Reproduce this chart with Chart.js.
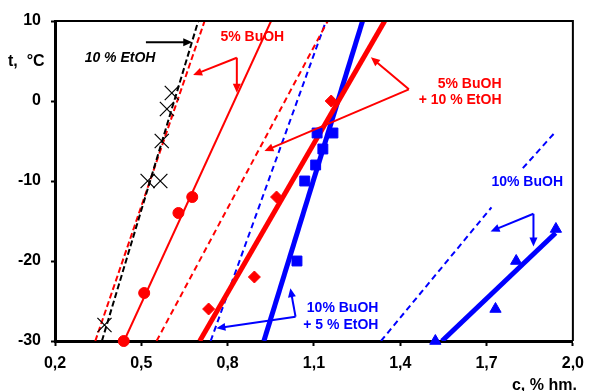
<!DOCTYPE html>
<html>
<head>
<meta charset="utf-8">
<script src="https://cdn.jsdelivr.net/npm/chart.js@4.4.1/dist/chart.umd.min.js"></script>
<style>
  html, body { margin: 0; padding: 0; background: #fff; }
</style>
</head>
<body>
<canvas id="chart" width="592" height="391"></canvas>
<script>
// ------------------- Data (c, % hm. vs t, °C) -------------------
// 10 % EtOH
const etohX = [0.372, 0.522, 0.566, 0.571, 0.589, 0.606];
const etohT = [-28, -10, -10, -5, -1, 1];
const etohLineX = [0.363, 0.698];
const etohLineT = [-30, 10];

// 5% BuOH
const bu5X = [0.439, 0.510, 0.629, 0.677];
const bu5T = [-30, -24, -14, -12];
const bu5LineX = [0.440, 0.951];
const bu5LineT = [-30, 10];
const bu5CalcX = [0.340, 0.720];
const bu5CalcT = [-30, 10];

// 5% BuOH + 10 % EtOH
const mixRedX = [0.734, 0.893, 0.970, 1.160];
const mixRedT = [-26, -22, -12, 0];
const mixRedLineX = [0.703, 1.346];
const mixRedLineT = [-30, 10];
const mixRedCalcX = [0.553, 1.148];
const mixRedCalcT = [-30, 10];

// 10% BuOH + 5 % EtOH
const mixBlueX = [1.041, 1.068, 1.106, 1.131, 1.111, 1.166];
const mixBlueT = [-20, -10, -8, -6, -4, -4];
const mixBlueLineX = [0.926, 1.269];
const mixBlueLineT = [-30, 10];
const mixBlueCalcX = [0.741, 1.142];
const mixBlueCalcT = [-30, 10];

// 10% BuOH
const bu10X = [1.522, 1.731, 1.803, 1.941];
const bu10T = [-30, -26, -20, -16];
const bu10LineX = [1.545, 1.940];
const bu10LineT = [-30, -16.5];
const bu10CalcX = [1.333, 1.717, null, 1.826, 1.936];
const bu10CalcT = [-30, -13.3, null, -8.4, -4];

const xTicks = [0.2, 0.5, 0.8, 1.1, 1.4, 1.7, 2.0];
const yTicks = [-30, -20, -10, 0, 10];

const RED = '#ff0000', BLUE = '#0000ff', BLACK = '#000000';
const FONT = '"Liberation Sans", Arial, sans-serif';

// ------------------- Helpers -------------------
function pts(xs, ys){
  return xs.map((x,i)=> (x===null || ys[i]===null) ? {x:NaN, y:null} : {x, y:ys[i]});
}

function markers(xs, ys, style, radius, color){
  return {
    data: pts(xs, ys), showLine:false, order:0, clip:false,
    pointStyle:style, pointRadius:radius,
    pointBackgroundColor: style==='crossRot' ? 'transparent' : color,
    pointBorderColor: color, pointBorderWidth: style==='crossRot' ? 1.2 : 1
  };
}

function line(xs, ys, color, width, dash){
  return {
    data: pts(xs, ys), showLine:true, order:1, spanGaps:false,
    borderColor:color, borderWidth:width, borderDash:dash || [],
    pointRadius:0, fill:false, tension:0
  };
}

// ------------------- Annotations (in data units) -------------------
const labels = [
  {text:'10 % EtOH', x:0.303, y:5.4, color:BLACK, align:'left', italic:true},
  {text:'5% BuOH', x:0.775, y:7.96, color:RED, align:'left'},
  {text:'5% BuOH', x:1.752, y:2.09, color:RED, align:'right'},
  {text:'+ 10 % EtOH', x:1.752, y:0.125, color:RED, align:'right'},
  {text:'10% BuOH', x:1.324, y:-25.9, color:BLUE, align:'right'},
  {text:'+ 5 % EtOH', x:1.324, y:-28, color:BLUE, align:'right'},
  {text:'10% BuOH', x:1.717, y:-10.2, color:BLUE, align:'left'}
];

const arrows = [
  {from:[0.516, 7.34], to:[0.677, 7.34], color:BLACK},
  {from:[0.832, 5.41], to:[0.680, 3.25], color:RED},
  {from:[0.832, 5.41], to:[0.832, 1.04], color:RED},
  {from:[1.430, 1.46], to:[1.298, 5.46], color:RED},
  {from:[1.430, 1.46], to:[0.928, -6.25], color:RED},
  {from:[1.036, -26.96], to:[1.018, -23.4], color:BLUE},
  {from:[1.036, -26.96], to:[0.761, -28.4], color:BLUE},
  {from:[1.863, -14.1], to:[1.714, -16.3], color:BLUE},
  {from:[1.863, -14.1], to:[1.863, -18.2], color:BLUE}
];

function drawArrow(ctx, x1, y1, x2, y2, color){
  const ang = Math.atan2(y2-y1, x2-x1);
  const head = 9, half = 4;
  ctx.strokeStyle = color; ctx.fillStyle = color; ctx.lineWidth = 2;
  ctx.beginPath();
  ctx.moveTo(x1, y1);
  ctx.lineTo(x2 - Math.cos(ang)*head*0.8, y2 - Math.sin(ang)*head*0.8);
  ctx.stroke();
  ctx.beginPath();
  ctx.moveTo(x2, y2);
  ctx.lineTo(x2 - Math.cos(ang)*head - Math.sin(ang)*half, y2 - Math.sin(ang)*head + Math.cos(ang)*half);
  ctx.lineTo(x2 - Math.cos(ang)*head + Math.sin(ang)*half, y2 - Math.sin(ang)*head - Math.cos(ang)*half);
  ctx.closePath();
  ctx.fill();
}

const notesPlugin = {
  id:'notes',
  afterDraw(c){
    const ctx = c.ctx, a = c.chartArea, xs = c.scales.x, ys = c.scales.y;
    ctx.save();
    // top and right frame
    ctx.strokeStyle = BLACK; ctx.lineWidth = 2;
    ctx.beginPath();
    ctx.moveTo(a.left, a.top); ctx.lineTo(a.right, a.top); ctx.lineTo(a.right, a.bottom);
    ctx.stroke();

    arrows.forEach(ar=>{
      drawArrow(ctx, xs.getPixelForValue(ar.from[0]), ys.getPixelForValue(ar.from[1]),
        xs.getPixelForValue(ar.to[0]), ys.getPixelForValue(ar.to[1]), ar.color);
    });

    ctx.textBaseline = 'middle';
    labels.forEach(l=>{
      ctx.font = (l.italic ? 'italic ' : '') + 'bold 14px ' + FONT;
      ctx.fillStyle = l.color;
      ctx.textAlign = l.align;
      ctx.fillText(l.text, xs.getPixelForValue(l.x), ys.getPixelForValue(l.y));
    });

    // axis titles
    ctx.font = 'bold 16px ' + FONT;
    ctx.fillStyle = BLACK;
    ctx.textAlign = 'left';
    ctx.fillText('t,  °C', 8, a.top + 41);
    ctx.textAlign = 'right';
    ctx.fillText('c, % hm.', a.right + 4, a.bottom + 45);
    ctx.restore();
  }
};

// ------------------- Chart -------------------
const chart = new Chart(document.getElementById('chart'), {
  type:'scatter',
  data:{
    datasets:[
      markers(etohX, etohT, 'crossRot', 10, BLACK),
      markers(bu5X, bu5T, 'circle', 5.5, RED),
      markers(mixRedX, mixRedT, 'rectRot', 6, RED),
      markers(mixBlueX, mixBlueT, 'rect', 7, BLUE),
      markers(bu10X, bu10T, 'triangle', 6.5, BLUE),
      line(etohLineX, etohLineT, BLACK, 2, [6,3]),
      line(bu5CalcX, bu5CalcT, RED, 2, [6,3]),
      line(bu5LineX, bu5LineT, RED, 2),
      line(mixRedCalcX, mixRedCalcT, RED, 2, [6,4]),
      line(mixRedLineX, mixRedLineT, RED, 5),
      line(mixBlueCalcX, mixBlueCalcT, BLUE, 2, [6,4]),
      line(mixBlueLineX, mixBlueLineT, BLUE, 5),
      line(bu10CalcX, bu10CalcT, BLUE, 2, [6,4]),
      line(bu10LineX, bu10LineT, BLUE, 5)
    ]
  },
  options:{
    responsive:false,
    animation:false,
    layout:{ padding:{ top:21, right:15, left:0, bottom:0 } },
    plugins:{ legend:{ display:false }, tooltip:{ enabled:false } },
    scales:{
      x:{
        type:'linear', min:0.2, max:2.0,
        afterBuildTicks: s=>{ s.ticks = xTicks.map(v=>({value:v})); },
        afterFit: s=>{ s.height = 50; },
        grid:{ drawOnChartArea:false, drawTicks:true, tickLength:5, tickWidth:2, tickColor:BLACK },
        border:{ display:true, color:BLACK, width:3 },
        ticks:{
          color:BLACK, padding:8, maxRotation:0,
          font:{ family:FONT, size:16, weight:'bold' },
          callback: v=> v.toFixed(1).replace('.', ',')
        }
      },
      y:{
        type:'linear', min:-30, max:10,
        afterBuildTicks: s=>{ s.ticks = yTicks.map(v=>({value:v})); },
        afterFit: s=>{ s.width = 55; },
        grid:{ drawOnChartArea:false, drawTicks:true, tickLength:4, tickWidth:2, tickColor:BLACK },
        border:{ display:true, color:BLACK, width:3 },
        ticks:{
          color:BLACK, padding:10,
          font:{ family:FONT, size:16, weight:'bold' },
          callback: v=> String(v)
        }
      }
    }
  },
  plugins:[notesPlugin]
});
</script>
</body>
</html>
